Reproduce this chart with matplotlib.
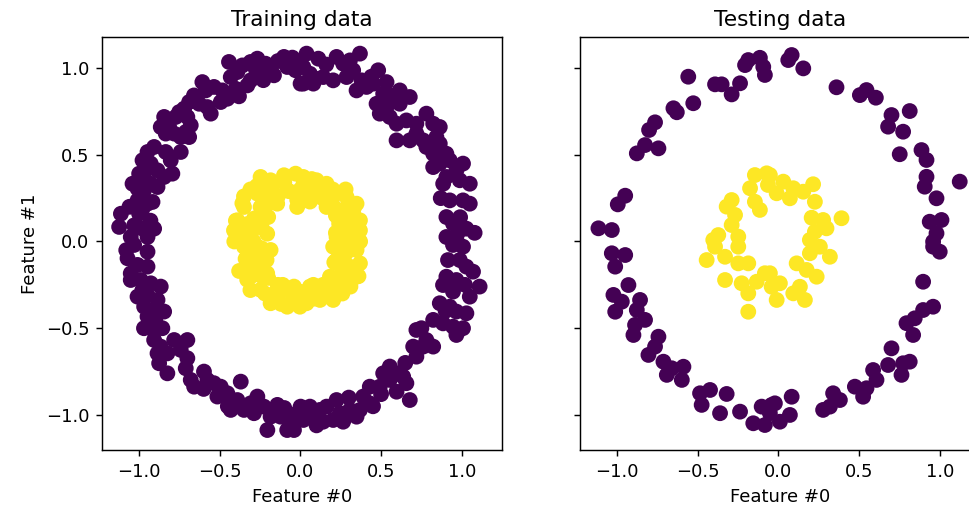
import numpy as np
from matplotlib import pyplot as plt

# training data: outer circle (label 0)
train_outer_x = [
    -0.443, -0.432, -0.360, -0.309, -0.267, -0.216, -0.247, -0.309, -0.329, -0.185,
    -0.164, -0.102, -0.082, -0.030, -0.020, 0.001, -0.391, -0.278, -0.608, -0.587,
    -0.536, -0.484, -0.453, -0.494, -0.381, -0.660, -0.628, -0.577, -0.556, -0.690,
    -0.721, -0.752, -0.773, -0.701, -0.680, -0.711, -0.845, -0.866, -0.814, -0.783,
    -0.835, -0.742, -0.690, -0.907, -0.948, -0.835, -0.804, -0.742, -0.979, -0.928,
    -0.959, -1.000, -0.886, -0.794, -0.845, -1.041, -1.010, -0.928, -0.969, -0.886,
    -1.010, -0.948, -0.917, -0.979, -1.000, -1.113, -1.124, -1.031, -0.979, -0.907,
    -1.052, -0.948,
    0.038, 0.111, 0.018, 0.059, 0.018, 0.080, 0.141, 0.203, 0.224, 0.265,
    0.307, 0.369, 0.327, 0.286, 0.379, 0.348, 0.410, 0.482, 0.451, 0.534,
    0.513, 0.575, 0.616, 0.678, 0.472, 0.534, 0.492, 0.616, 0.554, 0.596,
    0.657, 0.719, 0.781, 0.823, 0.864, 0.596, 0.678, 0.719, 0.761, 0.781,
    0.843, 0.864, 0.823, 0.905, 0.926, 0.864, 1.008, 0.967, 0.823, 0.905,
    0.988, 1.050, 0.885, 0.926, 1.008, 1.050, 0.905, 0.946, 0.988, 1.029,
    0.905, 0.967,
    -1.031, -0.948, -1.072, -1.010, -0.948, -1.052, -1.052, -0.990, -0.928, -0.866,
    -1.010, -0.948, -0.886, -0.969, -0.907, -0.845, -0.948, -0.928, -0.856, -0.907,
    -0.866, -0.825, -0.886, -0.876, -0.825, -0.783, -0.701, -0.742, -0.701, -0.711,
    -0.680, -0.659, -0.598, -0.577, -0.536, -0.494, -0.515, -0.453, -0.370, -0.391,
    -0.432, -0.350, -0.309, -0.267, -0.288, -0.226, -0.185, -0.205, -0.143, -0.123,
    -0.061, -0.020, -0.040, 0.001, -0.082,
    0.946, 1.008, 0.915, 0.988, 1.029, 1.070, 0.905, 0.967, 0.884, 0.946,
    1.050, 1.111, 0.864, 0.926, 0.967, 1.029, 0.823, 0.884, 0.946, 1.008,
    0.967, 0.719, 0.781, 0.699, 0.761, 0.823, 0.719, 0.554, 0.513, 0.596,
    0.637, 0.657, 0.554, 0.492, 0.430, 0.596, 0.678, 0.389, 0.430, 0.369,
    0.307, 0.348, 0.245, 0.224, 0.162, 0.203, 0.121, 0.059, 0.080, 0.018,
    0.141, 0.265,
    -0.140, -0.050, 0.160, 0.090, -0.230, -0.400, 0.440,
    -0.980, -1.060, -0.930, -1.080, -0.980, -0.900, -0.970,
    -0.600, -0.450, -0.100, 0.100, 0.300, 0.500, 0.450,
    0.990, 1.080, 0.870, 1.020, 0.900, 0.750, 0.650,
]
train_outer_y = [
    1.035, 0.948, 1.015, 1.035, 1.054, 1.025, 0.967, 0.929, 0.900, 0.987,
    0.958, 1.064, 1.006, 0.987, 1.025, 0.910, 0.977, 0.996, 0.919, 0.871,
    0.891, 0.871, 0.823, 0.804, 0.837, 0.842, 0.794, 0.775, 0.737, 0.804,
    0.766, 0.746, 0.718, 0.718, 0.670, 0.631, 0.718, 0.660, 0.660, 0.622,
    0.622, 0.602, 0.602, 0.545, 0.516, 0.516, 0.468, 0.516, 0.468, 0.449,
    0.410, 0.391, 0.410, 0.391, 0.372, 0.333, 0.305, 0.333, 0.295, 0.314,
    0.237, 0.218, 0.228, 0.189, 0.160, 0.160, 0.084, 0.093, 0.074, 0.074,
    0.026, 0.026,
    1.083, 1.054, 1.006, 0.967, 0.910, 0.910, 0.948, 0.929, 1.064, 1.025,
    1.044, 1.083, 0.987, 0.948, 0.929, 0.871, 0.891, 0.987, 0.910, 0.919,
    0.852, 0.842, 0.871, 0.833, 0.794, 0.775, 0.737, 0.794, 0.718, 0.679,
    0.698, 0.679, 0.737, 0.679, 0.660, 0.583, 0.583, 0.622, 0.583, 0.545,
    0.602, 0.564, 0.506, 0.506, 0.468, 0.449, 0.449, 0.410, 0.429, 0.372,
    0.353, 0.333, 0.333, 0.237, 0.237, 0.218, 0.141, 0.103, 0.064, 0.074,
    0.026, 0.026,
    -0.020, -0.059, -0.097, -0.135, -0.145, -0.184, -0.222, -0.222, -0.241, -0.260,
    -0.318, -0.308, -0.337, -0.376, -0.395, -0.404, -0.433, -0.500, -0.500, -0.568,
    -0.606, -0.645, -0.645, -0.702, -0.760, -0.568, -0.568, -0.625, -0.673, -0.731,
    -0.798, -0.837, -0.750, -0.798, -0.817, -0.837, -0.894, -0.875, -0.808, -0.914,
    -0.971, -0.971, -0.933, -0.894, -0.990, -0.952, -1.010, -1.087, -0.942, -1.010,
    -1.029, -0.990, -1.087, -0.952, -1.087,
    -0.020, -0.030, -0.107, -0.107, -0.145, -0.174, -0.203, -0.222, -0.251, -0.289,
    -0.318, -0.260, -0.356, -0.376, -0.404, -0.414, -0.452, -0.472, -0.491, -0.500,
    -0.539, -0.510, -0.568, -0.606, -0.606, -0.606, -0.664, -0.721, -0.760, -0.760,
    -0.779, -0.817, -0.798, -0.837, -0.837, -0.866, -0.914, -0.894, -0.933, -0.971,
    -0.971, -1.010, -0.990, -0.914, -0.952, -1.029, -0.971, -0.952, -1.010, -1.029,
    -1.039, -1.039,
    1.040, 1.060, 1.020, 0.940, 0.930, 0.880, 0.950,
    0.360, 0.200, 0.120, -0.050, -0.280, -0.450, -0.500,
    -0.850, -0.950, -0.960, -1.060, -0.900, -0.880, -0.950,
    0.140, 0.050, 0.250, -0.250, -0.400, -0.500, -0.700,
]

# training data: inner circle (label 1)
train_inner_x = [
    -0.247, -0.185, -0.102, -0.030, -0.267, -0.185, -0.082, 0.001, -0.350, -0.247,
    -0.144, -0.020, -0.391, -0.288, -0.200, -0.412, -0.309, -0.206,
    0.018, 0.100, 0.162, 0.038, 0.121, 0.224, 0.286, 0.348, 0.059, 0.162,
    0.245, 0.327, 0.369, 0.240, 0.286, 0.369, 0.224, 0.307,
    -0.350, -0.267, -0.185, -0.329, -0.247, -0.210, -0.309, -0.206, -0.110, -0.247,
    -0.143, -0.040, -0.185, -0.082, 0.001,
    0.203, 0.286, 0.348, 0.369, 0.307, 0.224, 0.348, 0.265, 0.183, 0.224,
    0.141, 0.059, 0.038, 0.121, 0.203, -0.003,
    -0.410, 0.370, 0.360,
    0.27, 0.25, 0.20, 0.14, 0.07, 0.00, -0.07, -0.14, -0.20, -0.25,
    -0.28, -0.29, -0.28, -0.25, -0.20, -0.14, -0.07, 0.00, 0.07, 0.14,
    0.20, 0.25, 0.28,
    -0.36, -0.40, -0.38, -0.31, 0.31, 0.33, 0.28, -0.31, 0.07, -0.12, 0.26,
    -0.33, -0.34, -0.30, -0.36, -0.24, -0.24, -0.24, -0.33, -0.27, -0.17,
    -0.35, -0.20, -0.10, 0.02, 0.12, 0.20, 0.30, 0.32, 0.30, 0.32,
    0.25, 0.17, 0.08, -0.05, -0.14, -0.22, -0.30, 0.22, 0.21, 0.22,
    -0.02, 0.08,
]
train_inner_y = [
    0.372, 0.353, 0.382, 0.391, 0.276, 0.276, 0.295, 0.276, 0.199, 0.199,
    0.218, 0.199, 0.122, 0.132, 0.141, 0.064, 0.045, 0.045,
    0.372, 0.353, 0.333, 0.276, 0.257, 0.276, 0.257, 0.218, 0.230, 0.199,
    0.180, 0.161, 0.122, 0.103, 0.103, 0.064, 0.026, 0.026,
    -0.030, -0.030, -0.049, -0.126, -0.107, -0.107, -0.203, -0.184, -0.250, -0.279,
    -0.279, -0.260, -0.356, -0.376, -0.337,
    -0.030, -0.030, -0.049, -0.126, -0.145, -0.107, -0.203, -0.203, -0.203, -0.279,
    -0.279, -0.260, -0.356, -0.337, -0.337, -0.376,
    0.000, 0.000, -0.200,
    0.08, 0.15, 0.21, 0.25, 0.28, 0.30, 0.29, 0.26, 0.22, 0.15,
    0.08, 0.00, -0.07, -0.15, -0.21, -0.25, -0.28, -0.29, -0.28, -0.25,
    -0.21, -0.14, -0.07,
    0.22, 0.12, -0.17, -0.28, -0.26, 0.19, 0.30, 0.30, 0.36, -0.36, -0.30,
    0.10, -0.10, -0.15, 0.03, 0.08, -0.04, -0.20, -0.22, 0.32, 0.33,
    0.26, 0.30, 0.34, 0.34, 0.31, 0.30, 0.22, 0.10, -0.05, -0.18,
    -0.24, -0.31, -0.33, -0.34, -0.32, -0.30, -0.06, 0.05, -0.12, 0.15,
    0.24, -0.25,
]

# testing data: outer circle (label 0)
test_outer_x = [
    -0.187, -0.115, -0.207, -0.094, -0.084, -0.559, -0.393, -0.352, -0.238, -0.290,
    -0.528, -0.651, -0.630, -0.765, -0.802, -0.827, -0.744, -0.878, -0.950, -0.996,
    -1.116, -1.033,
    0.082, 0.061, 0.154, 0.360, 0.505, 0.546, 0.604, 0.814, 0.701, 0.680,
    0.773, 0.752, 0.887, 0.918, 0.918, 0.907, 1.124, 0.980, 0.938, 1.011,
    0.980, 0.959,
    -1.033, -0.950, -1.012, -0.930, -1.023, -0.971, -1.012, -0.858, -0.878, -0.827,
    -0.889, -0.899, -0.744, -0.765, -0.806, -0.713, -0.661, -0.692, -0.589, -0.599,
    -0.486, -0.424, -0.476, -0.321, -0.362, -0.238, -0.156, -0.084, -0.104, -0.042,
    0.959, 1.000, 0.897, 0.959, 0.897, 0.845, 0.794, 0.835, 0.701, 0.773,
    0.814, 0.763, 0.680, 0.587, 0.608, 0.546, 0.474, 0.525, 0.339, 0.381,
    0.277, 0.319, 0.082, -0.022, 0.071, 0.009, -0.053,
]
test_outer_y = [
    1.046, 1.059, 1.017, 1.007, 0.960, 0.950, 0.906, 0.906, 0.912, 0.848,
    0.797, 0.768, 0.745, 0.687, 0.643, 0.556, 0.537, 0.508, 0.264, 0.214,
    0.076, 0.066,
    1.075, 1.046, 0.998, 0.889, 0.844, 0.873, 0.829, 0.752, 0.729, 0.662,
    0.633, 0.503, 0.527, 0.470, 0.373, 0.316, 0.345, 0.249, 0.114, 0.124,
    0.047, -0.001,
    -0.068, -0.078, -0.145, -0.251, -0.308, -0.347, -0.405, -0.337, -0.395, -0.452,
    -0.481, -0.539, -0.549, -0.606, -0.654, -0.693, -0.731, -0.769, -0.722, -0.798,
    -0.875, -0.856, -0.942, -0.879, -0.990, -0.981, -1.048, -1.058, -0.952, -0.942,
    -0.030, -0.059, -0.232, -0.376, -0.395, -0.443, -0.471, -0.539, -0.616, -0.702,
    -0.693, -0.769, -0.712, -0.741, -0.798, -0.846, -0.837, -0.895, -0.875, -0.914,
    -0.971, -0.952, -0.895, -0.933, -1.000, -1.039, -0.990,
]

# testing data: inner circle (label 1)
test_inner_x = [
    -0.146, -0.073, -0.176, -0.065, -0.290, -0.321, -0.146, -0.115, -0.269, -0.290,
    -0.373, -0.404, -0.249, -0.053, 0.030, 0.092, 0.154, 0.215, -0.011, 0.071,
    0.226, 0.206, 0.277, 0.391, 0.226, 0.298, 0.195,
    -0.445, -0.393, -0.331, -0.249, -0.187, -0.331, -0.228, -0.084, -0.135, -0.187,
    -0.042, -0.187, -0.249, -0.053, 0.009, -0.011, 0.113, 0.175, 0.237, 0.195,
    0.257, 0.319, 0.133, 0.164, 0.092,
]
test_inner_y = [
    0.383, 0.393, 0.307, 0.326, 0.239, 0.201, 0.229, 0.182, 0.153, 0.095,
    0.037, 0.009, 0.028, 0.383, 0.345, 0.307, 0.287, 0.330, 0.278, 0.249,
    0.229, 0.137, 0.124, 0.134, 0.056, 0.076, 0.009,
    -0.107, -0.030, -0.088, -0.126, -0.126, -0.222, -0.241, -0.183, -0.232, -0.299,
    -0.261, -0.405, -0.030, -0.183, -0.241, -0.337, -0.126, -0.164, -0.203, -0.068,
    -0.030, -0.088, -0.261, -0.337, -0.299,
]

X_train = np.column_stack([train_outer_x + train_inner_x, train_outer_y + train_inner_y])
y_train = np.array([0] * len(train_outer_x) + [1] * len(train_inner_x))
X_test = np.column_stack([test_outer_x + test_inner_x, test_outer_y + test_inner_y])
y_test = np.array([0] * len(test_outer_x) + [1] * len(test_inner_x))

fig = plt.figure(figsize=(969 / 130, 508 / 130), dpi=130)
ax_train = fig.add_axes([0.1053, 0.1142, 0.4128, 0.8130])
ax_test = fig.add_axes([0.5986, 0.1142, 0.4128, 0.8130], sharey=ax_train)

ax_train.scatter(X_train[:, 0], X_train[:, 1], c=y_train, s=60, cmap='viridis')
ax_train.set_title("Training data")
ax_train.set_xlabel("Feature #0")
ax_train.set_ylabel("Feature #1")

ax_test.scatter(X_test[:, 0], X_test[:, 1], c=y_test, s=60, cmap='viridis')
ax_test.set_title("Testing data")
ax_test.set_xlabel("Feature #0")
ax_test.tick_params(labelleft=False)

for ax in (ax_train, ax_test):
    ax.set_xlim(-1.23, 1.25)
    ax.set_xticks([-1.0, -0.5, 0.0, 0.5, 1.0])
ax_train.set_ylim(-1.202, 1.179)
ax_train.set_yticks([-1.0, -0.5, 0.0, 0.5, 1.0])

fig.savefig("out.png", dpi=130)
